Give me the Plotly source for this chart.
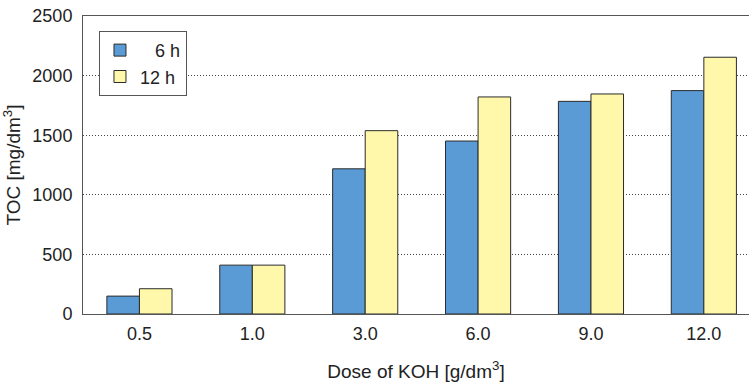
import plotly.graph_objects as go

categories = ["0.5", "1.0", "3.0", "6.0", "9.0", "12.0"]
toc_6h = [150, 410, 1218, 1451, 1784, 1874]
toc_12h = [212, 410, 1538, 1821, 1846, 2154]
y_ticks = [0, 500, 1000, 1500, 2000, 2500]

font = "Liberation Sans, Arial, sans-serif"

fig = go.Figure()
fig.add_trace(go.Bar(x=categories, y=toc_6h, name="\u2007 6 h",
                     marker=dict(color="#5B9BD5", line=dict(color="#2b2b2b", width=1))))
fig.add_trace(go.Bar(x=categories, y=toc_12h, name="12 h",
                     marker=dict(color="#FFF8AA", line=dict(color="#2b2b2b", width=1))))

fig.update_layout(
    width=749, height=382,
    margin=dict(l=83, r=0, t=16, b=68),
    plot_bgcolor="white", paper_bgcolor="white",
    barmode="group", bargap=0.423, bargroupgap=0,
    font=dict(family=font, size=18, color="#222"),
    legend=dict(x=0.024, y=0.95, xanchor="left", yanchor="top",
                bordercolor="#555", borderwidth=1, bgcolor="white",
                font=dict(size=18), itemwidth=30, tracegroupgap=0),
    xaxis=dict(range=[-0.5, 5.4], showline=True, linecolor="#555", linewidth=1,
               mirror=True, ticks="", showgrid=False, automargin=False,
               tickfont=dict(size=18), ticklabelstandoff=3,
               title=dict(text="Dose of KOH [g/dm<sup>3</sup>]", standoff=22,
                          font=dict(size=19))),
    yaxis=dict(range=[0, 2500], tickvals=y_ticks, showline=True, linecolor="#555",
               linewidth=1, ticks="", showgrid=True, gridcolor="#444",
               griddash="1px,2px", gridwidth=1, zeroline=False, automargin=False,
               tickfont=dict(size=18), ticklabelstandoff=6,
               ticklabeloverflow="allow",
               title=dict(text="TOC [mg/dm<sup>3</sup>]", standoff=12,
                          font=dict(size=19))),
)

fig.write_html("out.html", config={"displayModeBar": False},
               post_script="document.body.style.margin='0';document.body.style.overflow='hidden';")
